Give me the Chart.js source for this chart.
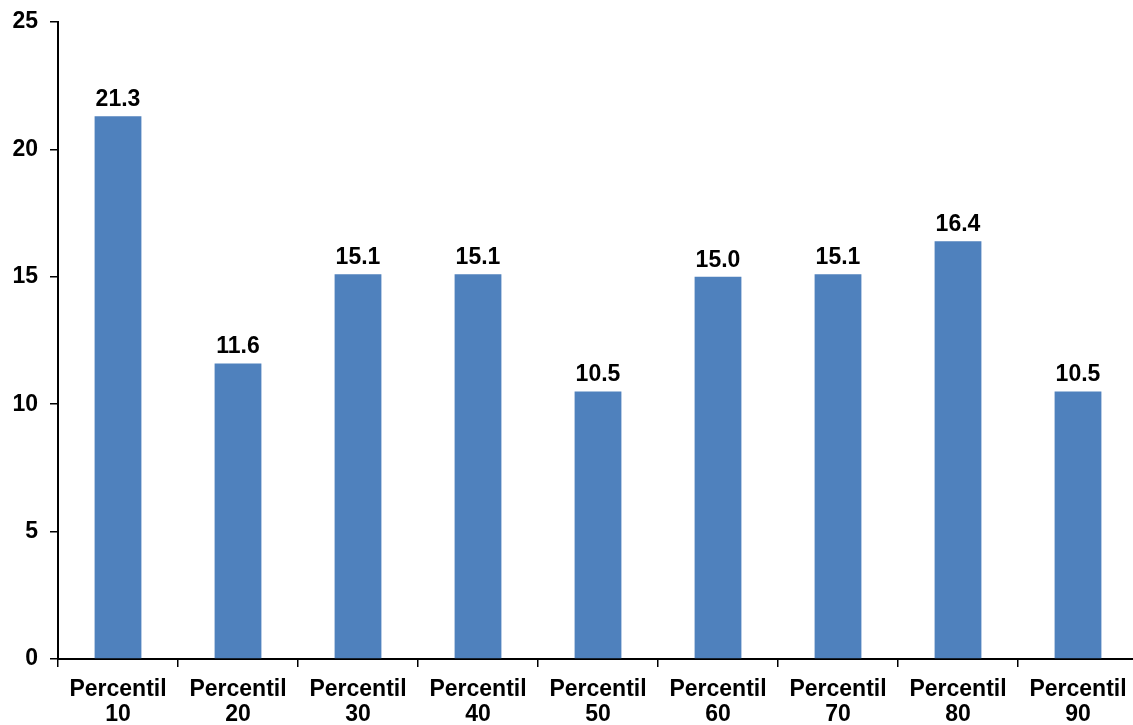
<!DOCTYPE html>
<html>
<head>
<meta charset="utf-8">
<script src="https://cdn.jsdelivr.net/npm/chart.js@4"></script>
<style>
  html, body { margin: 0; padding: 0; background: #fff; overflow: hidden; }
  #wrap { position: relative; width: 1145px; height: 725px; }
</style>
</head>
<body>
<div id="wrap"><canvas id="c"></canvas></div>
<script>
const categoryNames = ["Percentil", "Percentil", "Percentil", "Percentil", "Percentil", "Percentil", "Percentil", "Percentil", "Percentil"];
const categoryNumbers = ["10", "20", "30", "40", "50", "60", "70", "80", "90"];
const seriesValues = [21.3, 11.6, 15.1, 15.1, 10.5, 15.0, 15.1, 16.4, 10.5];
const yTicks = [0, 5, 10, 15, 20, 25];

const labels = categoryNames.map((n, i) => [n, categoryNumbers[i]]);
const FONT = "'Liberation Sans', Arial, Helvetica, sans-serif";

const valueLabels = {
  id: 'valueLabels',
  afterDatasetsDraw(chart) {
    const ctx = chart.ctx;
    const meta = chart.getDatasetMeta(0);
    ctx.save();
    ctx.font = "bold 23px " + FONT;
    ctx.fillStyle = '#000';
    ctx.textAlign = 'center';
    ctx.textBaseline = 'alphabetic';
    meta.data.forEach((bar, i) => {
      ctx.fillText(seriesValues[i].toFixed(1), bar.x, bar.y - 10);
    });
    ctx.restore();
  }
};

new Chart(document.getElementById('c'), {
  type: 'bar',
  data: {
    labels: labels,
    datasets: [{
      data: seriesValues,
      backgroundColor: '#4F81BD',
      borderWidth: 0,
      barPercentage: 0.39,
      categoryPercentage: 1.0
    }]
  },
  options: {
    responsive: true,
    maintainAspectRatio: false,
    animation: false,
    events: [],
    layout: { padding: { top: 22, right: 7, bottom: 0, left: 0 } },
    plugins: { legend: { display: false }, tooltip: { enabled: false }, title: { display: false } },
    scales: {
      x: {
        offset: true,
        grid: { offset: true, drawOnChartArea: false, drawTicks: true, tickLength: 8, color: '#000', lineWidth: 1.5 },
        border: { display: true, color: '#000', width: 2 },
        ticks: { color: '#000', font: { family: FONT, size: 23, weight: 'bold', lineHeight: 1.1 }, padding: 10, maxRotation: 0, autoSkip: false },
        afterFit(s) { s.height = 66; }
      },
      y: {
        min: 0, max: 25,
        afterBuildTicks(s) { s.ticks = yTicks.map(v => ({ value: v })); },
        grid: { drawOnChartArea: false, drawTicks: true, tickLength: 8, color: '#000', lineWidth: 1.5 },
        border: { display: true, color: '#000', width: 2 },
        ticks: { color: '#000', font: { family: FONT, size: 23, weight: 'bold', lineHeight: 1.0 }, padding: 12 },
        afterFit(s) { s.width = 58; s.paddingTop = 0; s.paddingBottom = 0; }
      }
    }
  },
  plugins: [valueLabels]
});
</script>
</body>
</html>
